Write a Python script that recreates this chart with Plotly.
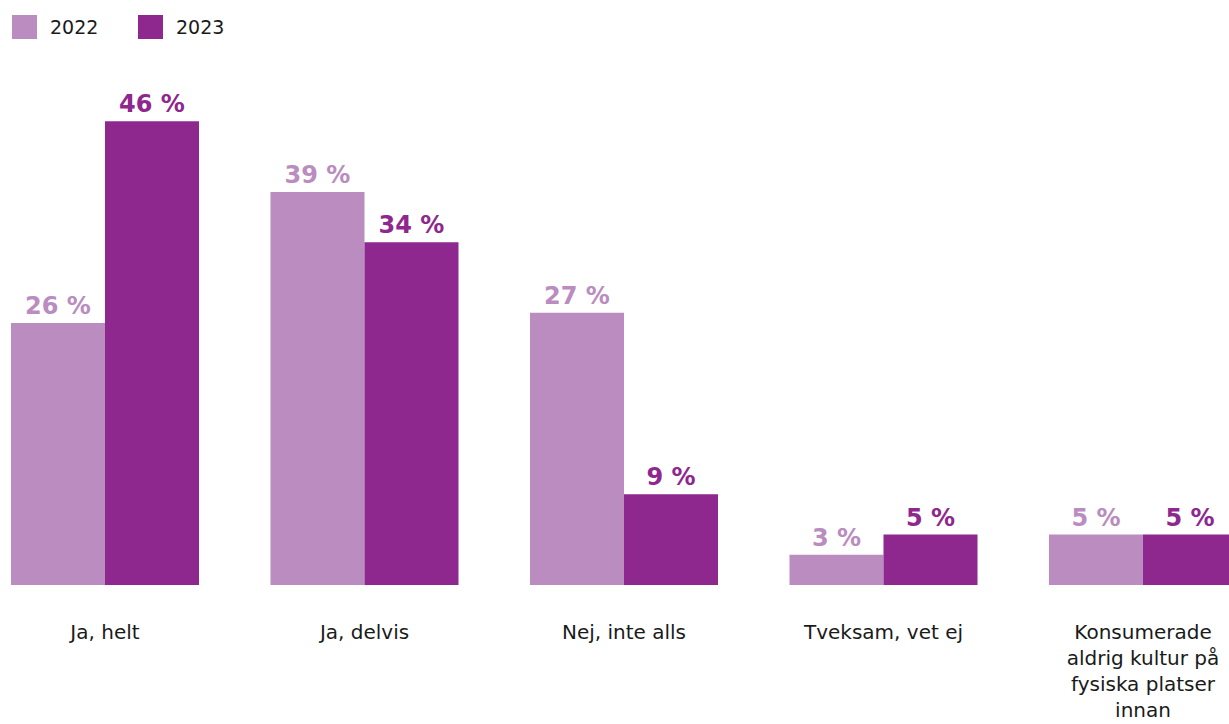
import plotly.graph_objects as go

# Survey answers (share of respondents, %)
categories = [
    "Ja, helt",
    "Ja, delvis",
    "Nej, inte alls",
    "Tveksam, vet ej",
    "Konsumerade<br>aldrig kultur på<br>fysiska platser<br>innan",
]
years = ["2022", "2023"]
values_2022 = [26, 39, 27, 3, 5]
values_2023 = [46, 34, 9, 5, 5]

colors = {"2022": "#BA8CC0", "2023": "#8E278E"}
series = {"2022": values_2022, "2023": values_2023}

FONT = "DejaVu Sans"
positions = list(range(len(categories)))

fig = go.Figure()
for year in years:
    vals = series[year]
    fig.add_trace(
        go.Bar(
            x=positions,
            y=vals,
            name=year,
            marker=dict(color=colors[year], line=dict(width=0)),
            text=[f"{v} %" for v in vals],
            textposition="outside",
            constraintext="none",
            cliponaxis=False,
            textfont=dict(family=FONT, size=24, color=colors[year], weight="bold"),
            showlegend=False,
        )
    )

# Legend swatches and labels drawn in pixel offsets from the top-left corner
shapes = []
annotations = []
for i, year in enumerate(years):
    x_off = 12 + i * 126
    shapes.append(
        dict(
            type="rect",
            xref="paper", yref="paper",
            xsizemode="pixel", ysizemode="pixel",
            xanchor=0, yanchor=1,
            x0=x_off, x1=x_off + 25,
            y0=81 - 15, y1=81 - 39,
            fillcolor=colors[year],
            line=dict(width=0),
        )
    )
    annotations.append(
        dict(
            text=year,
            xref="paper", yref="paper",
            x=0, y=1,
            xanchor="left", yanchor="middle",
            xshift=x_off + 36, yshift=81 - 27,
            showarrow=False,
            font=dict(family=FONT, size=19, color="#1a1a1a"),
        )
    )

fig.update_layout(
    width=1229,
    height=724,
    margin=dict(l=0, r=0, t=81, b=139, pad=0),
    paper_bgcolor="white",
    plot_bgcolor="white",
    barmode="group",
    bargap=0.2755,
    bargroupgap=0,
    shapes=shapes,
    annotations=annotations,
    xaxis=dict(
        range=[-0.4046, 4.3314],
        tickmode="array",
        tickvals=positions,
        ticktext=categories,
        tickfont=dict(family=FONT, size=20, color="#1a1a1a"),
        ticks="",
        showline=False,
        showgrid=False,
        zeroline=False,
        ticklabelstandoff=33,
        fixedrange=True,
    ),
    yaxis=dict(
        range=[0, 50],
        visible=False,
        showgrid=False,
        zeroline=False,
        fixedrange=True,
    ),
)

fig.write_html("out.html")
